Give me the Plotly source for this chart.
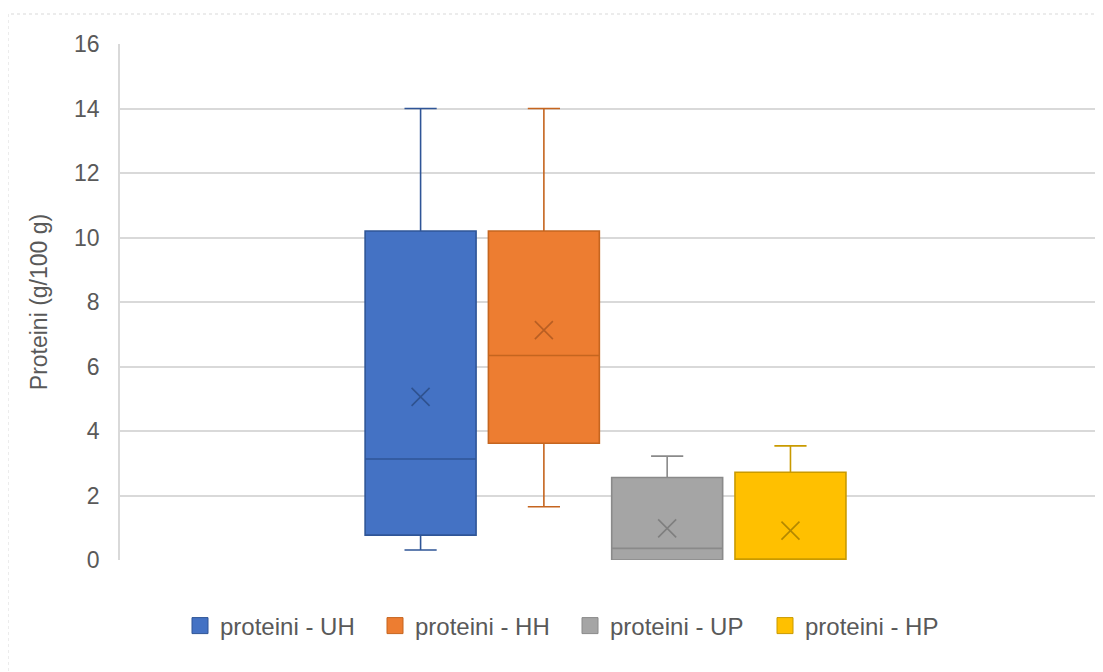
import plotly.graph_objects as go

# ---- data ----
SERIES = ["proteini - UH", "proteini - HH", "proteini - UP", "proteini - HP"]
LOWER = [0.31, 1.65, 0.0, 0.0]
Q1 = [0.77, 3.62, 0.0, 0.0]
MEDIAN = [3.13, 6.34, 0.36, 0.0]
Q3 = [10.2, 10.2, 2.56, 2.72]
UPPER = [14.0, 14.0, 3.22, 3.54]
MEAN = [5.06, 7.13, 0.98, 0.91]
Y_TICKS = [0, 2, 4, 6, 8, 10, 12, 14, 16]
Y_TITLE = "Proteini (g/100 g)"

# ---- styles ----
FILL = ["#4472C4", "#ED7D31", "#A5A5A5", "#FFC000"]
EDGE = ["#2F5597", "#C5651F", "#8A8A8A", "#C99A00"]
XMARK = ["#2F528F", "#B85E23", "#7F7F7F", "#B38800"]
FONT = "Arial, Liberation Sans, sans-serif"
TXT = "#595959"

fig = go.Figure()
for i, name in enumerate(SERIES):
    fig.add_trace(go.Box(
        x=[name], q1=[Q1[i]], median=[MEDIAN[i]], q3=[Q3[i]],
        lowerfence=[LOWER[i]], upperfence=[UPPER[i]],
        name=name, fillcolor=FILL[i],
        line=dict(color=EDGE[i], width=1.6),
        whiskerwidth=0.29, width=0.9, boxpoints=False,
        showlegend=False, hoverinfo="skip",
    ))
    fig.add_trace(go.Scatter(
        x=[name], y=[MEAN[i]], mode="markers",
        marker=dict(symbol="x-thin", size=18,
                    line=dict(color=XMARK[i], width=1.6)),
        showlegend=False, hoverinfo="skip",
    ))
    # legend entry
    fig.add_trace(go.Scatter(
        x=[None], y=[None], mode="markers", name=name,
        marker=dict(symbol="square", size=22, color=FILL[i],
                    line=dict(color=EDGE[i], width=1)),
        showlegend=True,
    ))

# page offset (body margin of 8px)
OFF = 8
W, H = 1103, 672
L, R, T, B = 120 - OFF, 16, 44 - OFF, 120
pw, ph = W - L - R, H - T - B

def px_x(p):
    return (p - OFF - L) / pw

def px_y(p):
    return (H - B - (p - OFF)) / ph

fig.update_layout(
    width=W, height=H,
    margin=dict(l=L, r=R, t=T, b=B),
    paper_bgcolor="white", plot_bgcolor="white",
    font=dict(family=FONT, color=TXT),
    xaxis=dict(type="category", categoryorder="array", categoryarray=SERIES,
               range=[-2.438, 5.470], showticklabels=False, showgrid=False,
               zeroline=False, showline=False, ticks=""),
    yaxis=dict(range=[0, 16], tickvals=Y_TICKS, showgrid=True,
               gridcolor="#D9D9D9", gridwidth=1.5, zeroline=False,
               showline=True, linecolor="#D9D9D9", linewidth=1.5,
               tickfont=dict(size=23, color=TXT, family=FONT),
               ticklabelstandoff=14,
               title=dict(text=Y_TITLE, font=dict(size=23, color=TXT, family=FONT),
                          standoff=20)),
    legend=dict(orientation="h", x=px_x(570), xanchor="center",
                y=px_y(626), yanchor="middle",
                font=dict(size=24, color=TXT, family=FONT),
                entrywidth=150, itemsizing="trace"),
    shapes=[dict(type="rect", xref="paper", yref="paper",
                 x0=px_x(8), x1=px_x(1102), y0=px_y(700), y1=px_y(14),
                 line=dict(color="#D9D9D9", width=1, dash="dot"),
                 fillcolor="rgba(0,0,0,0)", layer="below")],
)

fig.write_html("out.html")
